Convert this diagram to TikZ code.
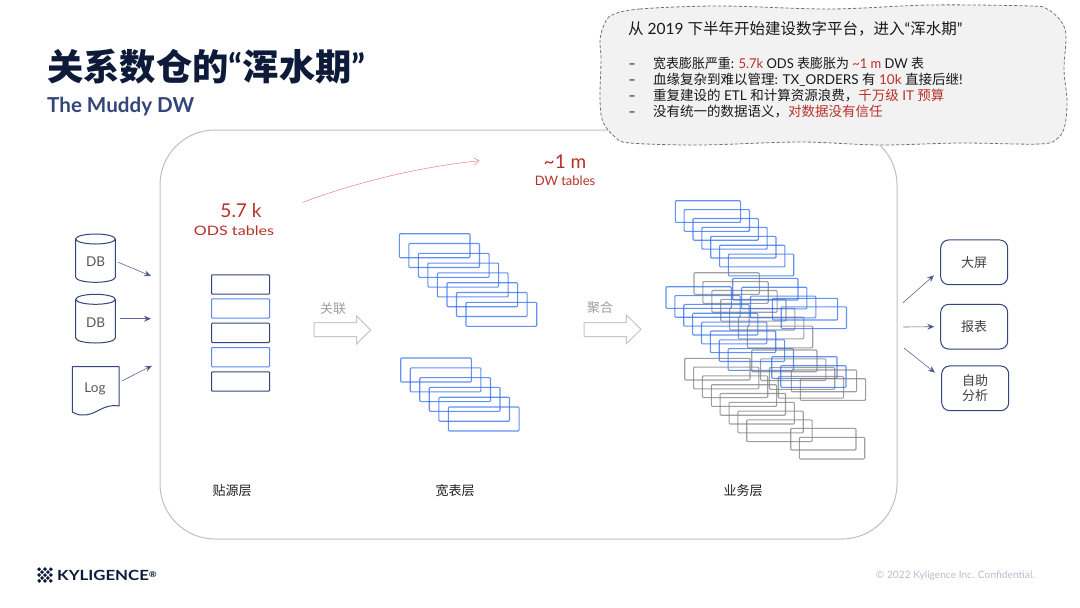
\documentclass[tikz,border=0pt]{standalone}
\usepackage{fontspec}
\setmainfont{Lato}
\newfontfamily\cjk{Noto Sans CJK SC}
\usetikzlibrary{shapes.geometric,arrows.meta}
\definecolor{navy}{HTML}{33457A}
\definecolor{ink}{HTML}{0D1A3A}
\definecolor{bluerect}{HTML}{2F6BEF}
\definecolor{greyrect}{HTML}{7F7F7F}
\definecolor{redtxt}{HTML}{B8302A}
\newcommand{\C}[1]{{\cjk #1}}
\newcommand{\R}[1]{\textcolor{redtxt}{#1}}
\newcommand{\cyl}[3]{% left x, top y, bottom y
  \draw[draw=navy,line width=1pt,line join=round]
    (#1,#2+5) arc[start angle=180,end angle=540,x radius=19.8pt,y radius=5pt]
    -- (#1,#3-5) arc[start angle=180,end angle=360,x radius=19.8pt,y radius=5pt]
    -- (#1+39.6,#2+5);}
\tikzset{
  bluebox/.style={draw=bluerect,draw opacity=.75,line width=1.1pt,rounded corners=1pt,minimum width=65.3pt,minimum height=21.7pt,inner sep=0pt,outer sep=0pt,anchor=north west},
  greybox/.style={bluebox,draw=greyrect},
  widebox/.style={bluebox,minimum width=70.7pt,minimum height=24pt},
  odsnavy/.style={draw=navy,line width=1pt,rounded corners=.8pt,minimum width=58pt,minimum height=19.3pt,inner sep=0pt,anchor=north west},
  odsblue/.style={odsnavy,draw=bluerect!80},
  conn/.style={draw=navy!80,line width=.6pt,-{Stealth[length=7pt,width=6pt,fill=navy]}},
  outbox/.style={draw=navy,line width=1pt,rounded corners=8pt,minimum width=67pt,minimum height=44.7pt,inner sep=0pt,align=center,font=\cjk\fontsize{13}{15.5}\selectfont,text=black!75},
  dbtext/.style={inner sep=0pt,font=\fontsize{13.5}{15}\selectfont,text=black!65},
  blockarrow/.style={draw=black!22,line width=1pt,fill=white},
  graylabel/.style={font=\cjk\fontsize{13}{15}\selectfont,text=black!38},
  layerlabel/.style={font=\cjk\fontsize{13}{15}\selectfont,text=black!88},
  bignum/.style={font=\fontsize{19}{22}\selectfont,text=redtxt},
  subnum/.style={font=\fontsize{13}{15}\selectfont,text=redtxt},
  calltext/.style={anchor=west,inner sep=0pt,text height=10pt,text depth=3pt,font=\fontsize{13.5}{16}\selectfont,text=black!90},
}
\newcommand{\rectrun}[7]{% style, prefix, x, y, last index, dx, dy
  \foreach \i in {0,...,#5}{
    \node[#1] (#2\i) at ({#3+\i*#6},{#4+\i*#7}) {};
  }}
\begin{document}
\begin{tikzpicture}[x=1pt,y=-1pt]
\useasboundingbox (0,0) rectangle (1080,608);
\fill[white] (0,0) rectangle (1080,608);

% title
\node[anchor=west,inner sep=0pt,text=ink] (title) at (47,67) {\fontsize{36.3}{40}\selectfont\bfseries\C{关系数仓的}“\C{浑水期}”};
\node[anchor=west,inner sep=0pt,text=navy] (subtitle) at (47,106.5) {\fontsize{20.6}{24}\selectfont\bfseries The Muddy DW};

% frame
\draw[draw=black!25,line width=1pt,rounded corners=55pt] (160,130) rectangle (897,539);

% callout
\draw[draw=black!55,fill=black!5,line width=.8pt,dash pattern=on 3.2pt off 2pt]
  plot[smooth cycle,tension=.55] coordinates {(612,15)(640,9)(720,6)(830,9)(930,5)(1030,6)(1047,9)(1060,20)(1066,35)(1064,70)(1067,100)(1065,125)(1058,138)(1040,144)(960,143)(880,145)(800,142)(700,145)(630,143)(615,137)(603,122)(600,100)(601,60)(600,40)(604,25)};
\node[anchor=west,inner sep=0pt,text=black!90,font=\fontsize{15.5}{18}\selectfont] (chead) at (628,29) {\C{从} 2019 \C{下半年开始建设数字平台，进入}“\C{浑水期}”};
\foreach \n/\y in {1/64.5,2/81,3/97,4/113}{\node[calltext,xscale=1.5] (d\n) at (628,\y) {-};}
\node[calltext,xscale=.96] (l1) at (653,64.5) {\C{宽表膨胀严重}: \R{5.7k} ODS \C{表膨胀为} \R{\textasciitilde 1 m} DW \C{表}};
\node[calltext] (l2) at (653,81) {\C{血缘复杂到难以管理}: TX\_ORDERS \C{有} \R{10k} \C{直接后继}!};
\node[calltext] (l3) at (653,97) {\C{重复建设的} ETL \C{和计算资源浪费，}\R{\C{千万级} IT \C{预算}}};
\node[calltext] (l4) at (653,113) {\C{没有统一的数据语义，}\R{\C{对数据没有信任}}};

% sources
\cyl{75.7}{234}{282.3}
\cyl{75.7}{294.3}{343}
\node[dbtext] (db1) at (95.5,262) {DB};
\node[dbtext] (db2) at (95.5,322.7) {DB};
\node[dbtext] (log) at (95,388.5) {Log};
\draw[draw=navy,line width=1pt,line join=round] (72.3,366.7) -- (119,366.7) -- (119,406)
  .. controls (103,403) and (96,416) .. (82,415) .. controls (78,415) and (75,413.5) .. (72.3,412) -- cycle;
\coordinate (a1s) at (118.3,262.3); \coordinate (a1e) at (151,276);
\coordinate (a2s) at (120.3,318.7); \coordinate (a2e) at (151,318.7);
\coordinate (a3s) at (121.7,381);   \coordinate (a3e) at (152,365.7);
\draw[conn] (a1s) -- (a1e);
\draw[conn] (a2s) -- (a2e);
\draw[conn] (a3s) -- (a3e);

% ODS
\node[bignum] (n1) at (241,211) {5.7 k};
\node[subnum,xscale=1.24] (n2) at (234,231) {ODS tables};
\node[odsnavy] (o1) at (211,274.3) {};
\node[odsblue] (o2) at (211,298.3) {};
\node[odsnavy] (o3) at (211,322.7) {};
\node[odsblue] (o4) at (211,347) {};
\node[odsnavy] (o5) at (211,371.3) {};

% red growth arrow
\coordinate (gs) at (302.3,202.5); \coordinate (ge) at (479.5,160.7);
\draw[draw=red!55!redtxt!55,line width=.5pt,-{Straight Barb[length=5pt,width=7pt]}] (gs) .. controls (360,181) and (420,167) .. (ge);
\node[bignum] (n3) at (565,162) {\textasciitilde 1 m};
\node[subnum] (n4) at (565,181) {DW tables};

% wide layer
\rectrun{widebox}{w}{399.3}{233.7}{7}{9.53}{9.8}
\rectrun{widebox}{v}{400.7}{358}{5}{9.53}{9.8}

% business layer
\rectrun{bluebox}{s}{675.3}{200.7}{6}{8.85}{8.9}
\rectrun{greybox}{ga}{694}{272.7}{6}{8.9}{8.9}
\rectrun{bluebox}{sb}{666}{286.7}{7}{8.88}{8.85}
\rectrun{bluebox}{sc}{732.7}{278.3}{2}{8.9}{8.9}
\rectrun{bluebox}{sd}{772.3}{298.3}{1}{8.9}{8.6}
\rectrun{greybox}{ge}{751.7}{350}{3}{8.85}{8.8}
\rectrun{bluebox}{sf}{771.7}{356.7}{1}{9}{9}
\rectrun{greybox}{gg}{791.3}{370}{1}{9}{8.7}
\rectrun{greybox}{gh}{684.7}{358.3}{7}{8.87}{8.8}
\rectrun{greybox}{gi}{790.7}{428.3}{1}{8.7}{9}

% block arrows
\draw[blockarrow] (314,322.7) -- (356.7,322.7) -- (356.7,316) -- (370.7,330) -- (356.7,344) -- (356.7,336.7) -- (314,336.7) -- cycle;
\draw[blockarrow] (584,322.7) -- (626.3,322.7) -- (626.3,315) -- (641,329.3) -- (626.3,343.7) -- (626.3,336.7) -- (584,336.7) -- cycle;
\node[graylabel] (t1) at (333,309) {关联};
\node[graylabel] (t2) at (600,308) {聚合};

% layers
\node[layerlabel] (la) at (232,491) {贴源层};
\node[layerlabel] (lb) at (455,491) {宽表层};
\node[layerlabel] (lc) at (743,491) {业务层};

% outputs
\node[outbox] (x1) at (974.2,262.3) {大屏};
\node[outbox] (x2) at (974.2,326.7) {报表};
\node[outbox] (x3) at (975.2,388.3) {自助\\分析};
\coordinate (b1s) at (902.7,303); \coordinate (b1e) at (934,275.3);
\coordinate (b2s) at (903.3,327); \coordinate (b2e) at (934.3,326.7);
\coordinate (b3s) at (904,348);   \coordinate (b3e) at (935,372.7);
\draw[conn] (b1s) -- (b1e);
\draw[conn] (b2s) -- (b2e);
\draw[conn] (b3s) -- (b3e);

% logo
\foreach \a/\b in {0/0,1/0,2/0,0/1,1/1,2/1,0/2,1/2,2/2,-1/1,3/1,1/-1,1/3}{
  \fill[ink] ({45+(\a-1)*2.9-(\b-1)*2.9},{575+(\a-1)*2.9+(\b-1)*2.9}) +(-2,0) -- +(0,-2) -- +(2,0) -- +(0,2) -- cycle;
}
\node[anchor=west,inner sep=0pt,text=ink,xscale=1.2] (brand) at (57,575) {\fontsize{14}{16}\selectfont\bfseries KYLIGENCE\raisebox{2.5pt}{\fontsize{8}{9}\selectfont ®}};
\node[anchor=east,inner sep=0pt,text=navy!35,font=\fontsize{10.2}{12}\selectfont] (foot) at (1035,575.5) {© 2022 Kyligence Inc. Confidential.};
\end{tikzpicture}
\end{document}
